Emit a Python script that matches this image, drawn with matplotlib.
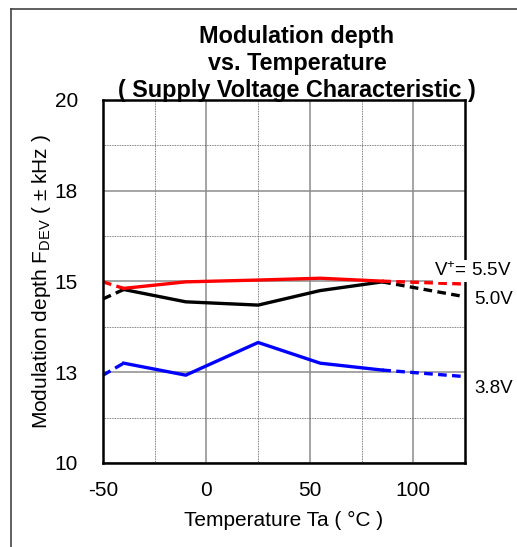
import matplotlib
matplotlib.use("Agg")
import matplotlib.pyplot as plt
from matplotlib.lines import Line2D
from matplotlib.ticker import FixedLocator

plt.rcParams["font.family"] = ["Liberation Sans", "DejaVu Sans"]
plt.rcParams["mathtext.fontset"] = "custom"
plt.rcParams["mathtext.rm"] = "Liberation Sans"
plt.rcParams["mathtext.it"] = "Liberation Sans:italic"
plt.rcParams["mathtext.bf"] = "Liberation Sans:bold"

# data
temps = [-50, -40, -10, 25, 55, 85, 125]
v55 = [14.99, 14.81, 14.99, 15.04, 15.09, 15.01, 14.93]
v50 = [14.52, 14.78, 14.44, 14.35, 14.75, 14.99, 14.58]
v38 = [12.42, 12.75, 12.42, 13.32, 12.75, 12.56, 12.38]

y_ticks = [10, 12.5, 15, 17.5, 20]
y_labels = ["10", "13", "15", "18", "20"]
x_ticks = [-50, 0, 50, 100]
x_labels = ["-50", "0", "50", "100"]

fig = plt.figure(figsize=(5.17, 5.47), dpi=100)
ax = fig.add_axes([103 / 517, 1 - 463 / 547, 362 / 517, 363 / 547])

dash = (0, (2.6, 1.6))
for vals, col in [(v38, "#0000ff"), (v50, "black"), (v55, "#ff0000")]:
    ax.plot(temps[:2], vals[:2], color=col, lw=2.4, linestyle=dash, clip_on=False)
    ax.plot(temps[1:-1], vals[1:-1], color=col, lw=2.4, solid_joinstyle="miter")
    ax.plot(temps[-2:], vals[-2:], color=col, lw=2.4, linestyle=dash, clip_on=False)

ax.set_xlim(-50, 125)
ax.set_ylim(10, 20)
ax.set_xticks(x_ticks)
ax.set_xticklabels(x_labels)
ax.set_yticks(y_ticks)
ax.set_yticklabels(y_labels)
ax.xaxis.set_minor_locator(FixedLocator([-25, 25, 75]))
ax.yaxis.set_minor_locator(FixedLocator([11.25, 13.75, 16.25, 18.75]))
ax.tick_params(which="both", length=0)
ax.tick_params(axis="y", labelsize=15, pad=18)
ax.tick_params(axis="x", labelsize=15, pad=13)

ax.grid(which="major", color="#8c8c8c", lw=1.1, ls="-")
ax.grid(which="minor", color="#555555", lw=0.6, ls=(0, (1, 1)))
ax.set_axisbelow(True)
for s in ax.spines.values():
    s.set_linewidth(1.8)
    s.set_color("black")

ax.set_xlabel("Temperature Ta ( °C )", fontsize=15, labelpad=8)
ax.set_ylabel(r"Modulation depth F$_{\mathrm{DEV}}$ ( ± kHz )", fontsize=15)
ax.yaxis.set_label_coords(-0.139, 0.5)

title_lines = ["Modulation depth", "vs. Temperature", "( Supply Voltage Characteristic )"]
for line, base in zip(title_lines, [43, 70, 97]):
    fig.text(297 / 517, 1 - base / 547, line, ha="center", va="baseline",
             fontsize=16.8, fontweight="bold")

ax.text(110, 15.29, r"V$^{+}$= 5.5V", fontsize=13.5, va="center", ha="left",
        clip_on=False, bbox=dict(facecolor="white", edgecolor="none", pad=1))
ax.text(129.5, 14.5, "5.0V", fontsize=13.5, va="center", ha="left", clip_on=False)
ax.text(129.5, 12.06, "3.8V", fontsize=13.5, va="center", ha="left", clip_on=False)

# outer frame (left and top only)
fig.add_artist(Line2D([11 / 517, 11 / 517], [0, 1 - 9 / 547], transform=fig.transFigure,
                      color="#444444", lw=1.2))
fig.add_artist(Line2D([11 / 517, 1], [1 - 9 / 547, 1 - 9 / 547], transform=fig.transFigure,
                      color="#444444", lw=1.2))

fig.savefig("out.png", dpi=100)
